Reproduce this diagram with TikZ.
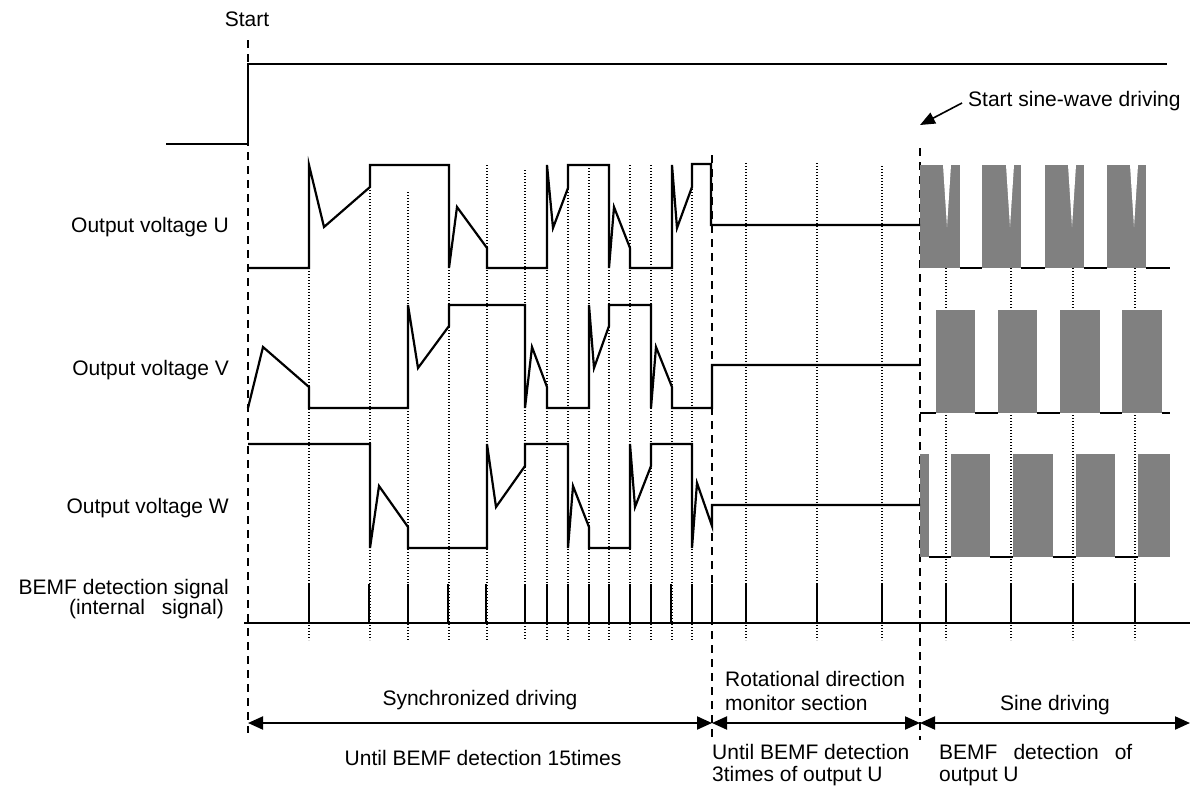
\documentclass[tikz,border=0pt]{standalone}
\usepackage{fontspec}
\setmainfont{Liberation Sans}
\usetikzlibrary{arrows.meta}
\definecolor{blockgray}{RGB}{128,128,128}
\begin{document}
\begin{tikzpicture}[x=1pt,y=-1pt,
  wave/.style={line width=2.2pt, line join=miter},
  dashv/.style={line width=1.8pt, dash pattern=on 8pt off 6pt},
  dotv/.style={line width=1.4pt, dash pattern=on 1.4pt off 1.6pt},
  lbl/.style={font=\fontsize{21}{24}\selectfont, inner sep=0pt},
  blk/.style={fill=blockgray},
  notch/.style={fill=white},
  dimarrow/.style={line width=2pt, {Triangle[length=15pt,width=13pt]}-{Triangle[length=15pt,width=13pt]}},
  callout/.style={line width=1.6pt, -{Triangle[length=15pt,width=12pt]}}]
\useasboundingbox (0,0) rectangle (1193,787);
\fill[white] (0,0) rectangle (1193,787);

% dotted guide lines
\foreach \x/\t in {309/268, 370/187, 408/192, 449/165, 487/165, 525/170, 547/165, 568/165, 589/165, 609/165, 630/165, 651/165, 672/165, 692/165, 746/163, 817/163, 882/166, 946/268, 1011/268, 1073/268, 1135/268}
  \draw[dotv] (\x,\t) -- (\x,640);

% dashed phase lines
\coordinate (d0t) at (248,40);   \coordinate (d0b) at (248,733);
\coordinate (d1t) at (712,155);  \coordinate (d1b) at (712,740);
\coordinate (d2t) at (920,148);  \coordinate (d2b) at (920,740);
\draw[dashv] (d0t) -- (d0b);
\draw[dashv] (d1t) -- (d1b);
\draw[dashv] (d2t) -- (d2b);

% start signal
\draw[wave] (166,144) -- (248,144) -- (248,64) -- (1167,64);

% sine driving blocks U
\foreach \a/\b in {920/960, 982/1021, 1045/1084, 1107/1146}
  \fill[blk] (\a,165) rectangle (\b,268);
\foreach \c in {947, 1010, 1072, 1134}
  \fill[notch] (\c-4,165) -- (\c+4,165) -- (\c,227) -- cycle;
\foreach \a/\b in {960/982, 1021/1045, 1084/1107, 1146/1170}
  \draw[wave] (\a,268) -- (\b,268);

% sine driving blocks V
\foreach \a/\b in {936/975, 998/1037, 1060/1100, 1122/1162}
  \fill[blk] (\a,310) rectangle (\b,413);
\foreach \a/\b in {920/936, 975/998, 1037/1060, 1100/1122, 1162/1170}
  \draw[wave] (\a,413) -- (\b,413);

% sine driving blocks W
\foreach \a/\b in {920/929, 951/990, 1013/1053, 1076/1115, 1138/1170}
  \fill[blk] (\a,454) rectangle (\b,557);
\foreach \a/\b in {929/951, 990/1013, 1053/1076, 1115/1138}
  \draw[wave] (\a,557) -- (\b,557);

% output U
\draw[wave] (248,268) -- (309,268) -- (309,165) -- (324,227) -- (370,187) -- (370,165) -- (449,165) -- (449,268) -- (457,207) -- (487,248) -- (487,268) -- (547,268) -- (547,165) -- (553,228) -- (568,188) -- (568,165) -- (609,165) -- (609,268) -- (614,207) -- (630,248) -- (630,268) -- (672,268) -- (672,165) -- (677,228) -- (692,187) -- (692,164) -- (711,164) -- (711,225) -- (920,225);

% output V
\draw[wave] (248,408) -- (263,347) -- (309,387) -- (309,408) -- (408,408) -- (408,305) -- (418,368) -- (449,326) -- (449,305) -- (525,305) -- (525,408) -- (532,347) -- (547,387) -- (547,408) -- (589,408) -- (589,305) -- (594,368) -- (609,326) -- (609,305) -- (651,305) -- (651,408) -- (656,347) -- (672,387) -- (672,408) -- (712,408) -- (712,365) -- (920,365);

% output W
\draw[wave] (248,444) -- (370,444) -- (370,548) -- (379,486) -- (408,527) -- (408,548) -- (487,548) -- (487,444) -- (496,507) -- (525,466) -- (525,444) -- (568,444) -- (568,548) -- (573,486) -- (589,527) -- (589,548) -- (630,548) -- (630,444) -- (635,507) -- (651,466) -- (651,444) -- (692,444) -- (692,548) -- (697,483) -- (712,526) -- (712,505) -- (920,505);

% BEMF detection signal
\draw[wave] (244,623) -- (1190,623);
\foreach \x in {309,369,408,448,486,525,547,568,589,609,630,651,671,692,712,746,817,882,946,1011,1073,1135}
  \draw[wave] (\x,584) -- (\x,623);

% labels left
\node[lbl, anchor=base] (lstart) at (247,26.5) {Start};
\node[lbl, anchor=base east] (lu) at (229,232) {Output voltage U};
\node[lbl, anchor=base east] (lv) at (229,375) {Output voltage V};
\node[lbl, anchor=base east] (lw) at (229,513) {Output voltage W};
\node[lbl, anchor=base east] (lb1) at (229,594) {BEMF detection signal};
\node[lbl, anchor=base east] (lb2) at (224,614) {(internal\hspace{11pt} signal)};

% section arrows
\coordinate (a0) at (248,723);
\coordinate (a1) at (712,723);
\coordinate (a2) at (920,723);
\coordinate (a3) at (1190,723);
\draw[dimarrow] (a0) -- (a1);
\draw[dimarrow] (a1) -- (a2);
\draw[dimarrow] (a2) -- (a3);

\node[lbl, anchor=base] (sync) at (480,705) {Synchronized driving};
\node[lbl, anchor=base] (sync2) at (483,765) {Until BEMF detection 15times};
\node[lbl, anchor=base west] (rot1) at (725,686.5) {Rotational direction};
\node[lbl, anchor=base west] (rot2) at (725,710.5) {monitor section};
\node[lbl, anchor=base west] (rot3) at (712,759) {Until BEMF detection};
\node[lbl, anchor=base west] (rot4) at (712,781) {3times of output U};
\node[lbl, anchor=base west] (sine1) at (1000,710.5) {Sine driving};
\node[lbl, anchor=base west] (sine2) at (939,759) {BEMF\hspace{16pt}detection\hspace{16pt}of};
\node[lbl, anchor=base west] (sine3) at (939,781) {output U};

% start sine-wave driving callout
\node[lbl, anchor=base west] (ssw) at (968,106.5) {Start sine-wave driving};
\coordinate (sswtail) at (962,103);
\coordinate (sswtip) at (920,125);
\draw[callout] (sswtail) -- (sswtip);
\end{tikzpicture}
\end{document}
